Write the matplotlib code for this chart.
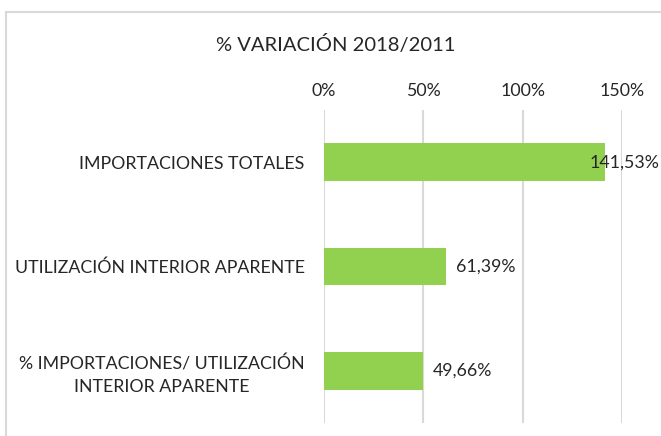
import matplotlib
matplotlib.use("Agg")
import matplotlib.pyplot as plt
from matplotlib.patches import Rectangle

categories = ["IMPORTACIONES TOTALES",
              "UTILIZACIÓN INTERIOR APARENTE",
              "% IMPORTACIONES/ UTILIZACIÓN\nINTERIOR APARENTE"]
values = [141.53, 61.39, 49.66]
value_labels = ["141,53%", "61,39%", "49,66%"]
tick_values = [0, 50, 100, 150]
tick_labels = ["0%", "50%", "100%", "150%"]
title = "% VARIACIÓN 2018/2011"

W, H = 661, 436
plt.rcParams['font.family'] = ['Lato', 'DejaVu Sans']
fig = plt.figure(figsize=(W / 100, H / 100), dpi=100)

# chart border (extends past right/bottom edges)
fig.patches.append(Rectangle((6 / W, -0.1), 1.2, 1 - 12 / H + 0.1,
                             transform=fig.transFigure, fill=False,
                             edgecolor="#d9d9d9", linewidth=1.5))

FS = 12.8
ax = fig.add_axes([324 / W, 1 - 423 / H, (622 - 324) / W, (423 - 110) / H])
ypos = list(range(len(categories)))
ax.barh(ypos, values, height=0.36, color="#92d050", zorder=3)
ax.set_xlim(0, 150)
ax.set_ylim(len(categories) - 0.5, -0.5)
ax.set_xticks(tick_values)
ax.set_xticklabels(tick_labels, fontsize=FS, color="#262626")
ax.xaxis.tick_top()
ax.tick_params(axis="x", length=0, pad=8)
ax.set_yticks(ypos)
ax.set_yticklabels(categories, fontsize=FS, color="#262626",
                   multialignment="center", linespacing=1.45)
ax.tick_params(axis="y", length=0, pad=14)
ax.grid(axis="x", color="#d9d9d9", linewidth=1.5, zorder=0)
for s in ax.spines.values():
    s.set_visible(False)

for y, v, lab in zip(ypos, values, value_labels):
    if v > 130:
        ax.annotate(lab, xy=(1.0, y), xycoords=("figure fraction", "data"),
                    xytext=(-1, 0), textcoords="offset points",
                    ha="right", va="center", fontsize=FS, color="#262626",
                    zorder=4)
    else:
        ax.annotate(lab, xy=(v, y), xytext=(7, 0), textcoords="offset points",
                    ha="left", va="center", fontsize=FS, color="#262626",
                    zorder=4)

fig.text(336 / W, 1 - 45 / H, title, ha="center", va="center",
         fontsize=14.5, color="#262626")

fig.savefig("out.png", dpi=100)
